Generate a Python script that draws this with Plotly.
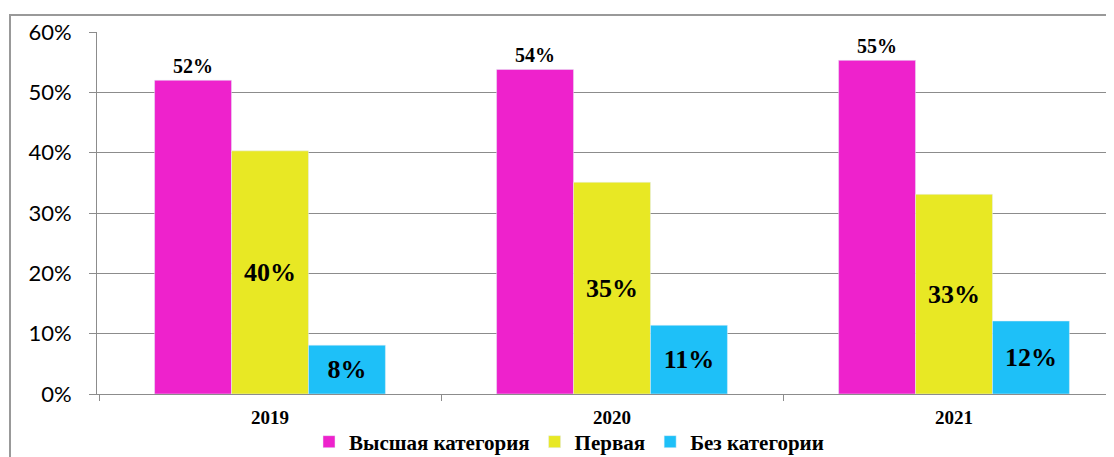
import plotly.graph_objects as go

years = ["2019", "2020", "2021"]
series_names = ["Высшая категория", "Первая", "Без категории"]
vysshaya = [0.520, 0.538, 0.553]
pervaya = [0.403, 0.351, 0.331]
bez = [0.081, 0.114, 0.121]
colors = ["#EE22CC", "#E8E824", "#1EC0F8"]
y_ticks = [0, 0.1, 0.2, 0.3, 0.4, 0.5, 0.6]
y_tick_labels = ["0%", "10%", "20%", "30%", "40%", "50%", "60%"]

serif = "Liberation Serif"
fig = go.Figure()
fig.add_bar(x=years, y=vysshaya, name=series_names[0], marker_color=colors[0],
            texttemplate="%{y:.0%}", textposition="outside",
            textfont=dict(family=serif, size=20, color="black", weight="bold"),
            cliponaxis=False)
fig.add_bar(x=years, y=pervaya, name=series_names[1], marker_color=colors[1],
            texttemplate="%{y:.0%}", textposition="inside", insidetextanchor="middle",
            textfont=dict(family=serif, size=26, color="black", weight="bold"))
fig.add_bar(x=years, y=bez, name=series_names[2], marker_color=colors[2],
            texttemplate="%{y:.0%}", textposition="inside", insidetextanchor="middle",
            textfont=dict(family=serif, size=26, color="black", weight="bold"))

# page body has an 8px margin: figure coordinates = target - 8
OFF = 8
W, H = 1114, 457
L, T = 97 - OFF, 32 - OFF
R = 0
B = H - (394 - OFF)
pw = W - L - R
ph = H - T - B
fig.update_layout(
    width=W, height=H,
    margin=dict(l=L, r=R, t=T, b=B, autoexpand=False),
    paper_bgcolor="white", plot_bgcolor="white",
    barmode="group", bargap=0.325, bargroupgap=0,
    showlegend=True,
    legend=dict(orientation="h", xref="container", yref="container",
                x=(569 - OFF) / W, xanchor="center", y=1 - (442 - OFF) / H, yanchor="middle",
                font=dict(family=serif, size=21, color="black", weight="bold"),
                itemwidth=30, bgcolor="rgba(0,0,0,0)"),
    uniformtext=dict(mode=False),
)
fig.update_xaxes(type="category", range=[-0.5 - 2 / 342, -0.5 - 2 / 342 + pw / 342], showgrid=False,
                 showline=True, linecolor="#8c8c8c", linewidth=1, automargin=False,
                 ticks="outside", tickson="boundaries", ticklen=6, tickcolor="#8c8c8c",
                 tickfont=dict(family=serif, size=19, color="black", weight="bold"),
                 ticklabelstandoff=6)
fig.update_yaxes(range=[0, 0.6], tickvals=y_ticks, ticktext=y_tick_labels,
                 showgrid=True, gridcolor="#8c8c8c", gridwidth=1, automargin=False,
                 showline=True, linecolor="#8c8c8c", linewidth=1,
                 ticks="outside", ticklen=7, tickcolor="#8c8c8c",
                 tickfont=dict(family="Lato", size=22, color="black"),
                 ticklabelstandoff=13,
                 zeroline=False)
fig.add_shape(type="rect", xref="paper", yref="paper",
              x0=(10 - OFF - L) / pw, x1=1.05, y0=-0.3, y1=1 + (T - (15 - OFF)) / ph,
              line=dict(color="#999999", width=2), fillcolor="rgba(0,0,0,0)", layer="below")
fig.write_html("out.html")
